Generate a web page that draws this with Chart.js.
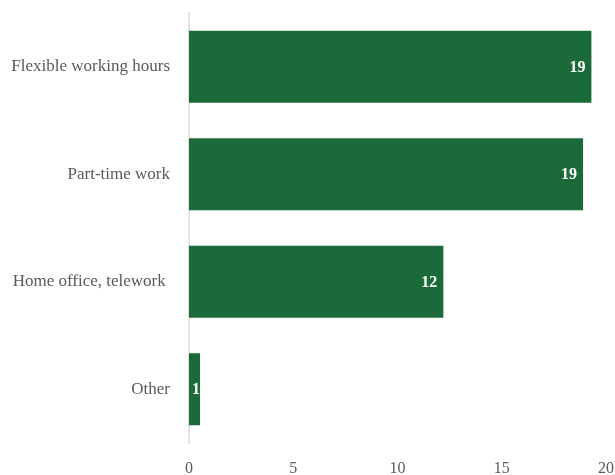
<!DOCTYPE html>
<html>
<head>
<meta charset="utf-8">
<script src="https://cdn.jsdelivr.net/npm/chart.js@4/dist/chart.umd.min.js"></script>
<style>
  html, body { margin: 0; padding: 0; background: #ffffff; }
  #wrap { width: 615px; height: 475px; position: relative; }
</style>
</head>
<body>
<div id="wrap"><canvas id="chart"></canvas></div>
<script>
// Categories and their values (bars run left to right)
const categories = ['Flexible working hours', 'Part-time work', 'Home office, telework ', 'Other'];
const values = [19.3, 18.9, 12.2, 0.53];
const xTicks = [0, 5, 10, 15, 20];

const FONT = '"Liberation Serif", "DejaVu Serif", serif';
const BAR = '#1a6b39';
const TEXT = '#595959';

// Value labels drawn white just inside the end of each bar
const barValueLabels = {
  id: 'barValueLabels',
  afterDatasetsDraw(chart) {
    const ctx = chart.ctx;
    const meta = chart.getDatasetMeta(0);
    ctx.save();
    ctx.font = 'bold 16px ' + FONT;
    ctx.fillStyle = '#ffffff';
    ctx.textAlign = 'right';
    ctx.textBaseline = 'middle';
    meta.data.forEach((bar, i) => {
      const txt = String(Math.round(values[i]));
      const w = ctx.measureText(txt).width;
      const x = Math.max(bar.x - 6, bar.base + 3 + w);
      ctx.fillText(txt, x, bar.y + 1);
    });
    ctx.restore();
  }
};

new Chart(document.getElementById('chart'), {
  type: 'bar',
  data: {
    labels: categories,
    datasets: [{
      data: values,
      backgroundColor: BAR,
      borderWidth: 0,
      categoryPercentage: 1,
      barPercentage: 0.67
    }]
  },
  options: {
    indexAxis: 'y',
    responsive: true,
    maintainAspectRatio: false,
    animation: false,
    layout: { padding: { top: 13, right: 9, bottom: 0, left: 0 } },
    plugins: { legend: { display: false }, tooltip: { enabled: false } },
    scales: {
      x: {
        min: 0,
        max: 20,
        afterBuildTicks(scale) { scale.ticks = xTicks.map(v => ({ value: v })); },
        afterFit(scale) {
          scale.height = 32;
          scale.paddingRight = 0;
          scale.paddingLeft = 0;
        },
        grid: { display: false, drawTicks: false },
        border: { display: false },
        ticks: { color: TEXT, font: { family: FONT, size: 16 }, padding: 16 }
      },
      y: {
        afterFit(scale) {
          scale.width = 189;
          scale.paddingTop = 0;
          scale.paddingBottom = 0;
        },
        grid: { display: false, drawTicks: false },
        border: { display: true, color: '#e3e3e3', width: 2 },
        ticks: { color: TEXT, font: { family: FONT, size: 17 }, padding: 19 }
      }
    }
  },
  plugins: [barValueLabels]
});
</script>
</body>
</html>
